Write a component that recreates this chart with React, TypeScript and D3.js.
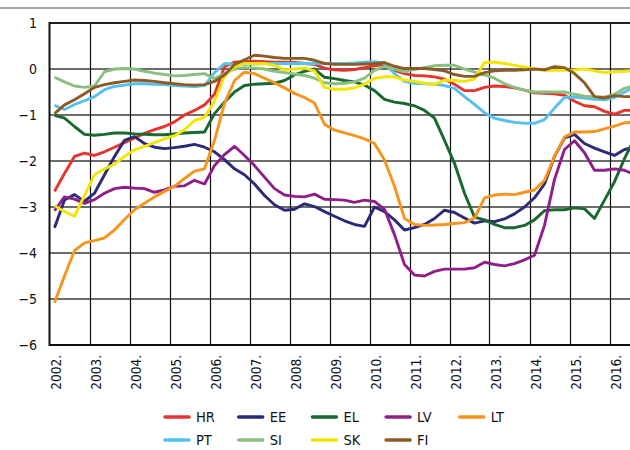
import React, { useEffect, useRef } from 'react';
import * as d3 from 'd3';

// quarterly observations, 2002Q1 .. 2016Q3
const firstYear = 2002;
const yearTicks = [2002, 2003, 2004, 2005, 2006, 2007, 2008, 2009, 2010, 2011, 2012, 2013, 2014, 2015, 2016];
const yTicks = [1, 0, -1, -2, -3, -4, -5, -6];

const HR = [-2.66, -2.27, -1.9, -1.83, -1.88, -1.8, -1.7, -1.6, -1.5, -1.4, -1.32, -1.25, -1.15, -1.0, -0.9, -0.78, -0.55, 0.05, 0.15, 0.16, 0.17, 0.16, 0.15, 0.15, 0.14, 0.12, 0.1, 0.02, -0.02, -0.03, -0.01, 0.03, 0.07, 0.1, -0.03, -0.1, -0.14, -0.15, -0.17, -0.22, -0.33, -0.47, -0.47, -0.4, -0.37, -0.38, -0.41, -0.46, -0.52, -0.53, -0.54, -0.57, -0.7, -0.8, -0.82, -0.92, -0.98, -0.9, -0.9];
const EE = [-3.45, -2.85, -2.73, -2.88, -2.7, -2.3, -1.9, -1.55, -1.47, -1.62, -1.7, -1.73, -1.71, -1.68, -1.64, -1.7, -1.8, -1.97, -2.17, -2.3, -2.5, -2.75, -2.95, -3.07, -3.05, -2.93, -2.99, -3.1, -3.2, -3.3, -3.38, -3.42, -3.0, -3.1, -3.28, -3.5, -3.45, -3.38, -3.25, -3.07, -3.12, -3.24, -3.35, -3.3, -3.32, -3.26, -3.15, -3.0, -2.8, -2.5, -1.9, -1.5, -1.42, -1.62, -1.72, -1.8, -1.88, -1.75, -1.7];
const EL = [-1.01, -1.07, -1.25, -1.42, -1.44, -1.42, -1.39, -1.39, -1.41, -1.42, -1.43, -1.43, -1.41, -1.39, -1.38, -1.37, -0.97, -0.72, -0.5, -0.36, -0.33, -0.32, -0.31, -0.25, -0.13, -0.05, 0.0, -0.18, -0.21, -0.25, -0.28, -0.35, -0.47, -0.66, -0.72, -0.75, -0.8, -0.9, -1.07, -1.55, -2.05, -2.7, -3.22, -3.28, -3.38, -3.45, -3.45, -3.4, -3.28, -3.08, -3.06, -3.06, -3.02, -3.04, -3.25, -2.85, -2.45, -1.95, -1.5];
const LV = [-3.08, -2.78, -2.83, -2.92, -2.84, -2.7, -2.6, -2.57, -2.59, -2.6, -2.68, -2.63, -2.55, -2.54, -2.42, -2.5, -2.1, -1.86, -1.68, -1.88, -2.1, -2.35, -2.6, -2.74, -2.77, -2.78, -2.72, -2.83, -2.84, -2.85, -2.9, -2.85, -2.88, -3.05, -3.6, -4.25, -4.48, -4.5, -4.4, -4.35, -4.35, -4.35, -4.32, -4.2, -4.25, -4.28, -4.23, -4.15, -4.05, -3.4, -2.4, -1.75, -1.56, -1.82, -2.2, -2.2, -2.17, -2.2, -2.3];
const LT = [-5.08, -4.5, -3.95, -3.78, -3.73, -3.67, -3.5, -3.27, -3.06, -2.92, -2.78, -2.66, -2.55, -2.38, -2.22, -2.17, -1.55, -0.75, -0.25, -0.07, -0.1, -0.2, -0.3, -0.41, -0.53, -0.62, -0.74, -1.2, -1.33, -1.39, -1.45, -1.52, -1.62, -1.98, -2.55, -3.25, -3.38, -3.4, -3.39, -3.38, -3.36, -3.34, -3.24, -2.8, -2.74, -2.72, -2.73, -2.68, -2.63, -2.42, -1.9, -1.48, -1.37, -1.37, -1.36, -1.3, -1.24, -1.17, -1.16];
const PT = [-0.79, -0.88, -0.77, -0.69, -0.6, -0.45, -0.38, -0.35, -0.32, -0.32, -0.33, -0.34, -0.36, -0.37, -0.38, -0.36, -0.08, 0.12, 0.1, 0.1, 0.11, 0.12, 0.12, 0.12, 0.12, 0.12, 0.12, 0.12, 0.12, 0.12, 0.13, 0.15, 0.16, 0.12, -0.1, -0.27, -0.31, -0.32, -0.33, -0.36, -0.42, -0.6, -0.77, -0.95, -1.07, -1.12, -1.16, -1.18, -1.18, -1.1, -0.85, -0.62, -0.61, -0.63, -0.66, -0.67, -0.62, -0.5, -0.4];
const SI = [-0.18, -0.28, -0.37, -0.4, -0.37, -0.06, 0.0, 0.01, 0.0, -0.05, -0.09, -0.12, -0.15, -0.14, -0.12, -0.1, -0.21, -0.1, 0.0, 0.03, 0.02, 0.0, -0.05, -0.08, -0.11, -0.14, -0.2, -0.3, -0.32, -0.31, -0.28, -0.2, -0.03, 0.06, 0.0, -0.06, -0.01, 0.03, 0.07, 0.08, 0.08, 0.0, -0.07, -0.13, -0.2, -0.32, -0.4, -0.46, -0.5, -0.5, -0.5, -0.5, -0.55, -0.59, -0.61, -0.61, -0.55, -0.42, -0.37];
const SK = [-2.97, -3.1, -3.2, -2.75, -2.3, -2.17, -2.07, -1.9, -1.76, -1.68, -1.6, -1.52, -1.45, -1.32, -1.12, -1.05, -0.7, -0.15, 0.05, 0.12, 0.12, 0.12, 0.08, -0.02, 0.0, 0.02, -0.04, -0.4, -0.44, -0.44, -0.41, -0.33, -0.2, -0.17, -0.17, -0.24, -0.27, -0.31, -0.34, -0.24, -0.25, -0.27, -0.22, 0.14, 0.15, 0.12, 0.08, 0.04, 0.0, -0.03, -0.03, -0.03, -0.02, 0.0, -0.04, -0.08, -0.06, -0.05, -0.03];
const FI = [-0.97, -0.78, -0.67, -0.54, -0.4, -0.34, -0.3, -0.27, -0.24, -0.25, -0.27, -0.3, -0.32, -0.34, -0.35, -0.34, -0.27, -0.13, 0.1, 0.2, 0.3, 0.28, 0.25, 0.23, 0.23, 0.23, 0.19, 0.12, 0.1, 0.1, 0.1, 0.11, 0.12, 0.14, 0.06, 0.01, 0.01, 0.01, -0.01, -0.04, -0.12, -0.16, -0.16, -0.08, -0.04, -0.03, -0.03, -0.02, 0.0, -0.02, 0.05, 0.03, -0.1, -0.3, -0.6, -0.63, -0.58, -0.6, -0.6];

const seriesNames = ['HR', 'EE', 'EL', 'LV', 'LT', 'PT', 'SI', 'SK', 'FI'];
const seriesValues = [HR, EE, EL, LV, LT, PT, SI, SK, FI];
const seriesColors = ['#e8332c', '#2b2a78', '#17692f', '#8f1f88', '#f7941d', '#56c0ef', '#89c07f', '#f2e500', '#8c5a24'];

const W = 630;
const H = 450;
const FONT = "'DejaVu Sans Condensed', 'DejaVu Sans', sans-serif";

export default function App() {
  const ref = useRef<SVGSVGElement>(null);

  useEffect(() => {
    const svg = d3.select(ref.current);
    svg.selectAll('*').remove();

    const x = d3.scaleLinear().domain([2002, 2017]).range([49.5, 649.5]);
    const y = d3.scaleLinear().domain([-6, 1]).range([345, 23]);

    // rule at the top
    svg.append('line')
      .attr('x1', 0).attr('x2', W).attr('y1', 8).attr('y2', 8)
      .attr('stroke', '#8a8a8a').attr('stroke-width', 1.5);

    const grid = svg.append('g');
    grid.selectAll('line.h')
      .data(yTicks.filter(d => d !== 1 && d !== -6))
      .enter()
      .append('line')
        .attr('x1', x(2002)).attr('x2', W)
        .attr('y1', d => y(d)).attr('y2', d => y(d))
        .attr('stroke', '#6e6e6e').attr('stroke-width', 2);

    grid.selectAll('line.v')
      .data(yearTicks.slice(1))
      .enter()
      .append('line')
        .attr('x1', d => Math.round(x(d)) + 0.5).attr('x2', d => Math.round(x(d)) + 0.5)
        .attr('y1', y(1)).attr('y2', y(-6))
        .attr('stroke', '#111').attr('stroke-width', 1.2);

    // frame: top, left, bottom
    grid.append('line')
      .attr('x1', x(2002)).attr('x2', W).attr('y1', y(1)).attr('y2', y(1))
      .attr('stroke', '#222').attr('stroke-width', 2);
    grid.append('line')
      .attr('x1', x(2002)).attr('x2', W).attr('y1', y(-6)).attr('y2', y(-6))
      .attr('stroke', '#111').attr('stroke-width', 2);
    grid.append('line')
      .attr('x1', x(2002)).attr('x2', x(2002)).attr('y1', y(1) - 1).attr('y2', y(-6) + 1)
      .attr('stroke', '#111').attr('stroke-width', 2);

    // y labels
    svg.append('g').selectAll('text')
      .data(yTicks)
      .enter()
      .append('text')
        .attr('x', 37)
        .attr('y', d => y(d))
        .attr('dy', '0.36em')
        .attr('text-anchor', 'end')
        .style('font-family', FONT)
        .style('font-size', '14px')
        .attr('fill', '#111')
        .text(d => (d < 0 ? '\u2212' + Math.abs(d) : String(d)));

    // x labels, rotated
    svg.append('g').selectAll('text')
      .data(yearTicks)
      .enter()
      .append('text')
        .attr('transform', d => `translate(${x(d) + 7},355) rotate(-90)`)
        .attr('dy', '0.36em')
        .attr('text-anchor', 'end')
        .style('font-family', FONT)
        .style('font-size', '13.5px')
        .attr('fill', '#111')
        .text(d => d + '.');

    // series
    const line = d3.line<number>()
      .x((d, i) => x(firstYear + 0.125 + i * 0.25))
      .y(d => y(d));

    svg.append('g').selectAll('path')
      .data(seriesValues)
      .enter()
      .append('path')
        .attr('d', d => line(d))
        .attr('fill', 'none')
        .attr('stroke', (d, i) => seriesColors[i])
        .attr('stroke-width', 2.9)
        .attr('stroke-linejoin', 'round');

    // legend
    const legend = svg.append('g');
    const items = legend.selectAll('g')
      .data(seriesNames)
      .enter()
      .append('g')
        .attr('transform', (d, i) => `translate(${165 + (i < 5 ? i : i - 5) * 73.7},${i < 5 ? 417 : 440})`);
    items.append('line')
      .attr('x1', 0).attr('x2', 24).attr('y1', 0).attr('y2', 0)
      .attr('stroke', (d, i) => seriesColors[i])
      .attr('stroke-width', 3.5)
      .attr('stroke-linecap', 'round');
    items.append('text')
      .attr('x', 31)
      .attr('dy', '0.36em')
      .style('font-family', FONT)
      .style('font-size', '14.5px')
      .attr('fill', '#111')
      .text(d => d);
  }, []);

  return (
    <svg ref={ref} width={W} height={H}
      style={{ position: 'absolute', left: 0, top: 0, background: '#fff' }} />
  );
}
